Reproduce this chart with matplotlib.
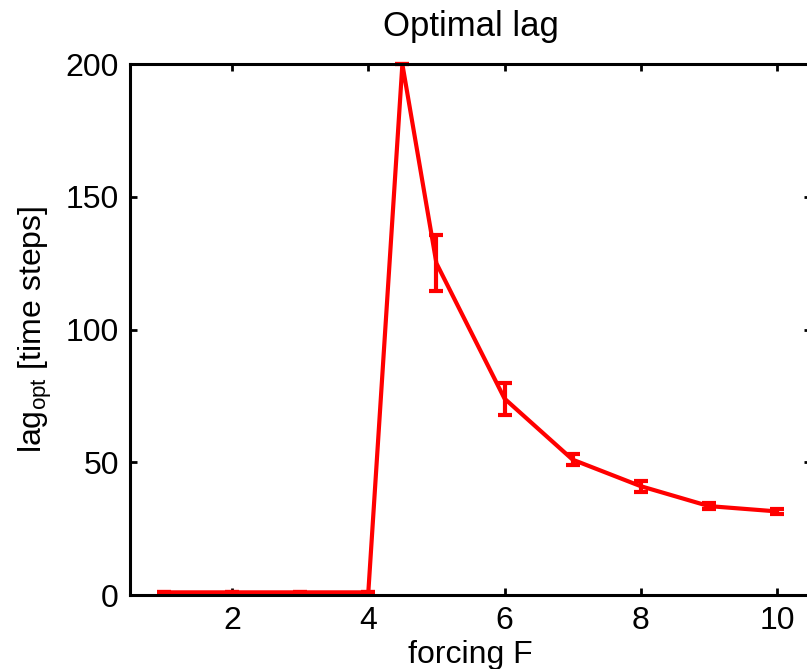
import matplotlib
matplotlib.use('Agg')
import matplotlib.pyplot as plt

plt.rcParams['font.family'] = ['Liberation Sans', 'DejaVu Sans']
plt.rcParams['mathtext.default'] = 'regular'

# ---------- data ----------
forcing = [1, 2, 3, 4, 4.5, 5, 6, 7, 8, 9, 10]
lag_opt = [1, 1, 1, 1, 200, 125, 74, 51, 41, 33.5, 31.5]
lag_err = [0, 0, 0, 0, 0, 10.5, 6, 2, 2, 1, 1]

x_ticks = [2, 4, 6, 8, 10]
y_ticks = [0, 50, 100, 150, 200]

# ---------- figure ----------
fig = plt.figure(figsize=(8.07, 6.69), dpi=100)
ax = fig.add_axes([0.161, 0.1106, 0.844, 0.7934])

ax.errorbar(forcing, lag_opt, yerr=lag_err, color='#ff0000', linewidth=3,
            elinewidth=3, capsize=5, capthick=3, clip_on=False)

ax.set_xlim(0.5, 10.5)
ax.set_ylim(0, 200)
ax.set_xticks(x_ticks)
ax.set_yticks(y_ticks)

for s in ax.spines.values():
    s.set_linewidth(2.2)
ax.tick_params(direction='in', length=5, width=2, top=True, right=True,
               labelsize=23, pad=8)

ax.set_title('Optimal lag', fontsize=25, pad=20)
ax.set_xlabel('forcing F', fontsize=23, labelpad=3)
ax.set_ylabel('lag$_{opt}$ [time steps]', fontsize=23, labelpad=8)

plt.savefig('out.png', dpi=100)
plt.close()
